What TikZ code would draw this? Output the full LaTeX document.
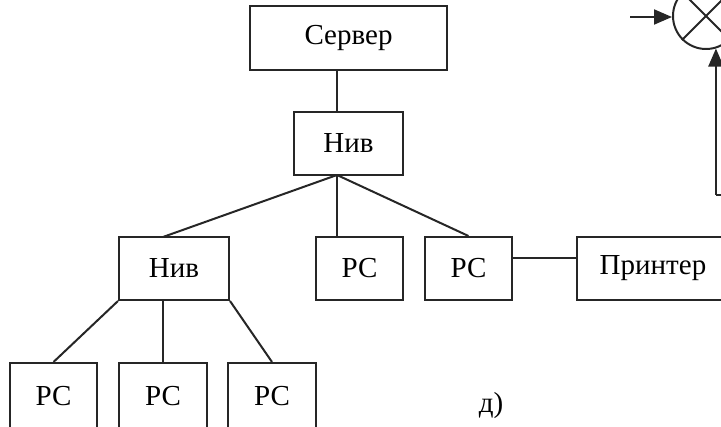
\documentclass[tikz,border=0pt]{standalone}
\usepackage{fontspec}
\setmainfont{Liberation Serif}
\usetikzlibrary{arrows.meta}
\begin{document}
\begin{tikzpicture}[x=1pt,y=-1pt,
  box/.style={draw=black!85,line width=2pt,inner sep=0pt,
    font=\fontsize{29}{32}\selectfont},
  wire/.style={draw=black!85,line width=2pt},
  arr/.style={wire,-{Triangle[length=18pt,width=15pt]}}]
\useasboundingbox (0,0) rectangle (721,427);
\clip (0,0) rectangle (721,427);

% top level
\node[box,minimum width=197pt,minimum height=64pt] (server) at (348.5,38) {Сервер};
\node[box,minimum width=109pt,minimum height=63pt] (hubA) at (348.5,143.5) {Нив};
\coordinate (hub) at (337,175);

% second level
\node[box,minimum width=110pt,minimum height=63pt] (hubB) at (174,268.5) {Нив};
\node[box,minimum width=87pt,minimum height=63pt] (pcm) at (359.5,268.5) {РС};
\node[box,minimum width=87pt,minimum height=63pt] (pcr) at (468.5,268.5) {РС};
\node[box,minimum width=152pt,minimum height=63pt] (prn) at (653,268.5) {Принтер};

% third level
\node[box,minimum width=87pt,minimum height=67pt] (pc1) at (53.5,396.5) {РС};
\node[box,minimum width=88pt,minimum height=67pt] (pc2) at (163,396.5) {РС};
\node[box,minimum width=88pt,minimum height=67pt] (pc3) at (272,396.5) {РС};

% links
\draw[wire] (server.south -| hub) -- (hubA.north -| hub);
\coordinate (tB) at (163,237);
\draw[wire] (hub) -- (tB);
\draw[wire] (hub) -- (pcm.north -| hub);
\draw[wire] (hub) -- (pcr.north);
\coordinate (lk) at (0,258);
\draw[wire] (pcr.east |- lk) -- (prn.west |- lk);
\draw[wire] (hubB.south west) -- (pc1.north);
\draw[wire] (hubB.south -| tB) -- (pc2.north);
\draw[wire] (hubB.south east) -- (pc3.north);

% caption
\node[font=\fontsize{29}{32}\selectfont] (cap) at (491,406) {д)};

% summing junction
\node[draw=black!85,line width=2pt,circle,minimum size=66pt,inner sep=0pt] (sum) at (706,16) {};
\draw[wire] (sum.45) -- (sum.225);
\draw[wire] (sum.135) -- (sum.-45);
\coordinate (inL) at (630,17);
\draw[arr] (inL) -- (sum.west |- inL);
\coordinate (fb) at (716,195);
\draw[wire] (fb) -- ++(10,0);
\draw[arr] (sum.-73 |- fb) -- (sum.-73);
\end{tikzpicture}
\end{document}
